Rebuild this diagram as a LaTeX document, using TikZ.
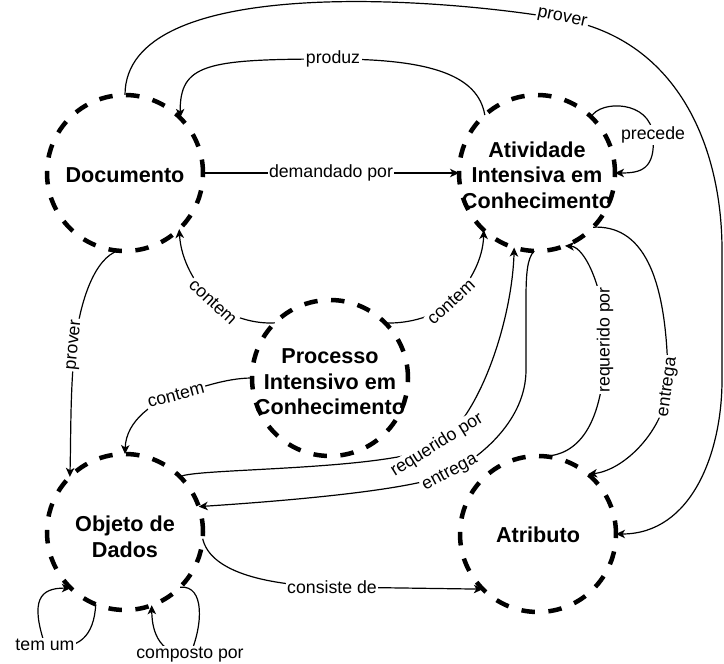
\documentclass[tikz,border=0pt]{standalone}
\usepackage{fontspec}
\setmainfont{Liberation Sans}
\usetikzlibrary{arrows.meta}
\begin{document}
\begin{tikzpicture}[x=1pt,y=-1pt,
  blob/.style={circle, draw, line width=4.5pt, dash pattern=on 13.5pt off 13.5pt,
    minimum size=156pt, inner sep=0pt, outer sep=0pt},
  title/.style={font=\bfseries\fontsize{21.6}{25.5}\selectfont, align=center, inner sep=0pt},
  conn/.style={line width=1.2pt, -{Stealth[length=9pt,width=8.5pt,inset=2.5pt]}},
  lbl/.style={font=\fontsize{17.7}{20}\selectfont, fill=white, inner sep=1.5pt}
]
\useasboundingbox (0,0) rectangle (724,664);

% concepts
\node[blob] (doc) at (125,173) {};
\node[blob] (ativ) at (537,173) {};
\node[blob] (proc) at (330,378) {};
\node[blob] (obj) at (125,532) {};
\node[blob] (atrib) at (538,534) {};

\node[title] (doc-t) at (125,175) {Documento};
\node[title] (ativ-t) at (537,175) {Atividade\\Intensiva em\\Conhecimento};
\node[title] (proc-t) at (330,382) {Processo\\Intensivo em\\Conhecimento};
\node[title] (obj-t) at (125,537) {Objeto de\\Dados};
\node[title] (atrib-t) at (538,535) {Atributo};

% relations
\draw[conn] (doc.north) .. controls (125,-27) and (442,-2) .. (562,19)
  node[lbl,rotate=-12] {prover}
  .. controls (680,40) and (722,150) .. (722,250) -- (722,380)
  .. controls (722,452) and (692,534) .. (atrib.east);

\draw[conn] (ativ.132) .. controls (478,75) and (430,59) .. (333,59)
  node[lbl] {produz}
  .. controls (205,59) and (180,64) .. (doc.45);

\draw[conn] (doc.east) -- node[lbl] {demandado por} (ativ.west);

\draw[conn] (ativ.46) .. controls (600,100) and (650,100) .. (653,135)
  node[lbl] {precede}
  .. controls (656,170) and (640,173) .. (ativ.east);

\draw[conn] (proc.135) .. controls (258,324) and (231,319) .. (213,302)
  node[lbl,rotate=-43] {contem}
  .. controls (195,285) and (181,260) .. (doc.-46);

\draw[conn] (proc.45) .. controls (402,324) and (433,319) .. (451,302)
  node[lbl,rotate=43] {contem}
  .. controls (469,285) and (483,260) .. (ativ.-133);

\draw[conn] (doc.-95) .. controls (95,258) and (80,300) .. (75,345)
  node[lbl,rotate=84] {prover}
  .. controls (70,390) and (71,440) .. (obj.135);

\draw[conn] (proc.west) .. controls (225,378) and (197,389) .. (176,395)
  node[lbl,rotate=15] {contem}
  .. controls (155,401) and (126,420) .. (obj.north);

\draw[conn] (obj.45) .. controls (190,468) and (395,471) .. (437,445)
  node[lbl,rotate=32] {requerido por}
  .. controls (480,418) and (512,320) .. (ativ.-107);

\draw[conn] (ativ.-92) .. controls (527,258) and (526,275) .. (526,300) -- (526,370)
  .. controls (526,420) and (481,457) .. (450,473)
  node[lbl,rotate=28] {entrega}
  .. controls (419,489) and (300,500) .. (obj.19);

\draw[conn] (atrib.85) .. controls (575,455) and (605,430) .. (605,340)
  node[lbl,rotate=90] {requerido por}
  .. controls (605,290) and (585,247) .. (ativ.-69);

\draw[conn] (ativ.-44) .. controls (640,225) and (668,270) .. (668,387)
  node[lbl,rotate=82] {entrega}
  .. controls (664,430) and (625,470) .. (atrib.50);

\draw[conn] (obj.-5) .. controls (210,570) and (260,585) .. (332,587)
  node[lbl] {consiste de} -- (atrib.-135);

\draw[conn] (obj.-112) .. controls (94,635) and (80,652) .. (45,645)
  node[lbl] {tem um}
  .. controls (30,600) and (40,588) .. (obj.-134);

\draw[conn] (obj.-45) .. controls (205,585) and (203,625) .. (190,655)
  node[lbl] {composto por}
  .. controls (155,655) and (152,625) .. (obj.-70);
\end{tikzpicture}
\end{document}
